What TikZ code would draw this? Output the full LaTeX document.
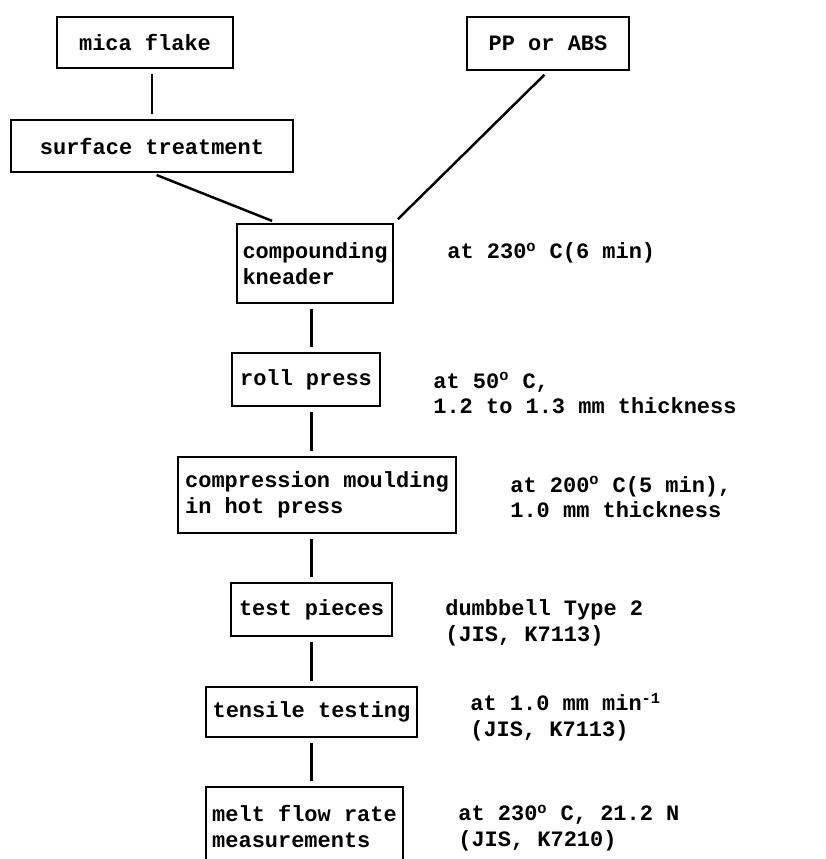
\documentclass[tikz,border=0pt]{standalone}
\usepackage{fontspec}
\newfontfamily\typefont{Liberation Mono}
\usepackage{tikz}
\usetikzlibrary{positioning}

\begin{document}
\begin{tikzpicture}[font=\typefont\bfseries\fontsize{12.5}{14.5}\selectfont,
	box/.style={draw, line width=1.4pt, align=left, inner sep=2pt},
	ln/.style={line width=1.4pt, shorten <=0.1cm, shorten >=0.1cm},
	note/.style={anchor=west, align=left, inner sep=0pt}]
	\useasboundingbox (0,0) rectangle (16.52,17.18);
	\clip (0,0) rectangle (16.52,17.18);
	% process steps
	\node[box, minimum width=3.52cm, minimum height=1.02cm] (M) at (2.90,16.33) {mica flake};
	\node[box, minimum width=3.24cm, minimum height=1.06cm] (P) at (10.96,16.31) {PP or ABS};
	\node[box, minimum width=5.64cm, minimum height=1.04cm] (S) at (3.04,14.26) {surface treatment};
	\node[box, minimum width=3.12cm, minimum height=1.58cm] (K) at (6.30,11.91) {compounding\\kneader};
	\node[box, minimum width=2.96cm, minimum height=1.06cm] (R) at (6.12,9.59) {roll press};
	\node[box, minimum width=5.56cm, minimum height=1.52cm] (H) at (6.34,7.28) {compression moulding\\in hot press};
	\node[box, minimum width=3.22cm, minimum height=1.06cm] (T) at (6.23,4.99) {test pieces};
	\node[box, minimum width=4.22cm, minimum height=1.00cm] (E) at (6.23,2.94) {tensile testing};
	\node[box, minimum width=3.94cm, minimum height=1.58cm] (F) at (6.09,0.65) {melt flow rate\\measurements};
	% conditions
	\node[note] (nK) at (8.94,12.12) {at 230\textsuperscript{o} C(6 min)};
	\node[note] (nR) at (8.66,9.32) {at 50\textsuperscript{o} C,\\1.2 to 1.3 mm thickness};
	\node[note] (nH) at (10.20,7.24) {at 200\textsuperscript{o} C(5 min),\\1.0 mm thickness};
	\node[note] (nT) at (8.90,4.72) {dumbbell Type 2\\(JIS, K7113)};
	\node[note] (nE) at (9.40,2.84) {at 1.0 mm min\textsuperscript{-1}\\(JIS, K7113)};
	\node[note] (nF) at (9.16,0.62) {at 230\textsuperscript{o} C, 21.2 N\\(JIS, K7210)};
	% connectors
	\draw[ln] (S.north |- M.south) -- (S.north);
	\draw[ln] (S.south) -- ([xshift=0.82cm]K.north west);
	\draw[ln] (P.south) -- (K.north east);
	\draw[ln] (K.south -| T.north) -- (R.north -| T.north);
	\draw[ln] (R.south -| T.north) -- (H.north -| T.north);
	\draw[ln] (H.south -| T.north) -- (T.north);
	\draw[ln] (T.south) -- (E.north);
	\draw[ln] (E.south) -- (F.north -| E.south);
\end{tikzpicture}
\end{document}
